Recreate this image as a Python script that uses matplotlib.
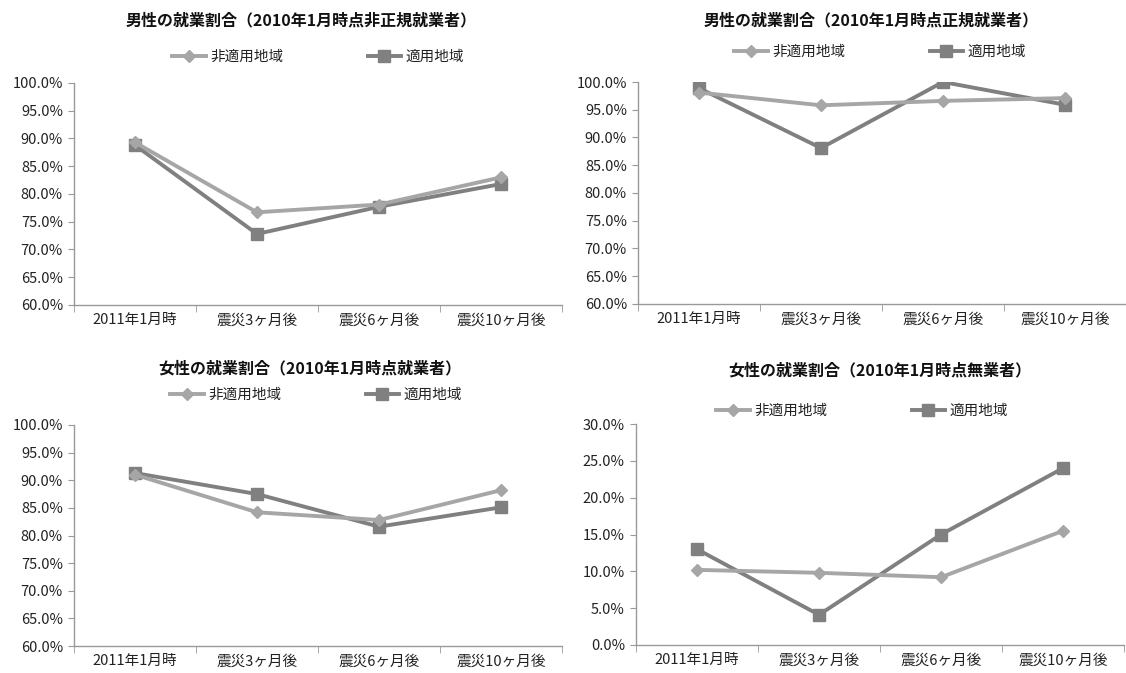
import numpy as np
import matplotlib
matplotlib.use("Agg")
import matplotlib.pyplot as plt
from matplotlib.ticker import FuncFormatter, FixedLocator

plt.rcParams['font.family'] = ['Noto Sans CJK JP', 'DejaVu Sans']

categories = ['2011年1月時', '震災3ヶ月後', '震災6ヶ月後', '震災10ヶ月後']
series_names = ['非適用地域', '適用地域']

titles = [
    '男性の就業割合（2010年1月時点非正規就業者）',
    '男性の就業割合（2010年1月時点正規就業者）',
    '女性の就業割合（2010年1月時点就業者）',
    '女性の就業割合（2010年1月時点無業者）',
]

# values in %
men_irregular_non = [89.3, 76.7, 78.1, 83.0]
men_irregular_app = [88.8, 72.8, 77.7, 81.8]
men_regular_non = [98.1, 95.8, 96.6, 97.1]
men_regular_app = [98.9, 88.1, 100.0, 95.9]
women_emp_non = [91.0, 84.2, 82.8, 88.2]
women_emp_app = [91.3, 87.5, 81.6, 85.1]
women_unemp_non = [10.2, 9.8, 9.2, 15.5]
women_unemp_app = [13.0, 4.1, 15.0, 24.0]

ylims = [(60, 100), (60, 100), (60, 100), (0, 30)]

W, H = 1126, 673
fig = plt.figure(figsize=(W / 100, H / 100), dpi=100)

# axes boxes in pixels: left, top, right, bottom
boxes = [(74, 83, 562, 305), (638, 82, 1126, 304), (74, 425, 562, 646), (636, 424, 1124, 645)]
title_xy = [(301, 20), (871, 20), (310, 368), (880, 370)]
legend_xy = [(318, 57), (880, 52), (316, 395), (862, 411)]

data = [
    (men_irregular_non, men_irregular_app),
    (men_regular_non, men_regular_app),
    (women_emp_non, women_emp_app),
    (women_unemp_non, women_unemp_app),
]

c_non = '#A6A6A6'
c_app = '#808080'
x = np.arange(len(categories))

for i in range(4):
    l, t, r, b = boxes[i]
    ax = fig.add_axes([l / W, 1 - b / H, (r - l) / W, (b - t) / H])
    non, app = data[i]
    ax.plot(x, non, color=c_non, lw=2.8, marker='D', ms=6.5, label=series_names[0], zorder=3)
    ax.plot(x, app, color=c_app, lw=2.8, marker='s', ms=9, label=series_names[1], zorder=2)
    ax.set_xlim(-0.5, 3.5)
    ax.set_ylim(*ylims[i])
    ax.set_yticks(np.arange(ylims[i][0], ylims[i][1] + 0.1, 5))
    ax.yaxis.set_major_formatter(FuncFormatter(lambda v, p: f'{v:.1f}%'))
    ax.set_xticks(x)
    ax.set_xticklabels(categories)
    ax.xaxis.set_minor_locator(FixedLocator([-0.5, 0.5, 1.5, 2.5, 3.5]))
    ax.tick_params(axis='x', which='major', length=0, pad=6, labelsize=10.5, colors='#222222')
    ax.tick_params(axis='x', which='minor', length=5, color='#999999')
    ax.tick_params(axis='y', length=4, color='#999999', labelsize=10.5, labelcolor='#222222', pad=4)
    for s in ['top', 'right']:
        ax.spines[s].set_visible(False)
    for s in ['left', 'bottom']:
        ax.spines[s].set_color('#999999')
        ax.spines[s].set_linewidth(1.0)

    tx, ty = title_xy[i]
    fig.text(tx / W, 1 - ty / H, titles[i], ha='center', va='center',
             fontsize=11.5, fontweight='bold', color='#111111')

    lx, ly = legend_xy[i]
    ax.legend(loc='center', bbox_to_anchor=(lx / W, 1 - ly / H), bbox_transform=fig.transFigure,
              ncol=2, frameon=False, fontsize=10.5, handlelength=2.3, handletextpad=0.3,
              columnspacing=5.8, labelcolor='#222222')

fig.savefig('out.png', dpi=100)
